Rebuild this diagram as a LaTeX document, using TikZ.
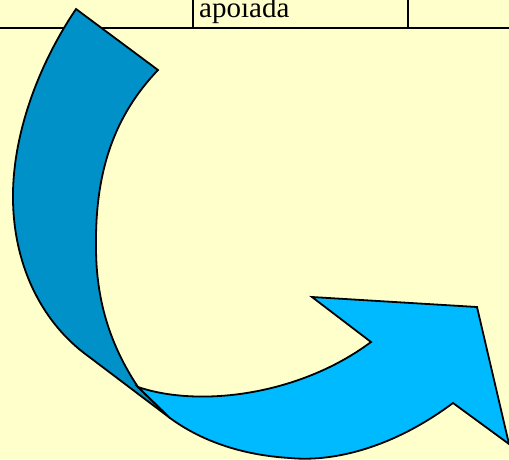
\documentclass[tikz,border=0pt]{standalone}
\usepackage{fontspec}
\setmainfont{Liberation Serif}
\definecolor{bgyellow}{RGB}{255,255,204}
\definecolor{darkblue}{RGB}{0,145,200}
\definecolor{lightblue}{RGB}{0,186,255}
\begin{document}
\begin{tikzpicture}[x=1pt,y=-1pt,
  tableline/.style={line width=2.8pt,black},
  band/.style={draw=black,line width=1.8pt,line join=miter}]
\fill[bgyellow] (0,0) rectangle (509,459);
\useasboundingbox (0,0) rectangle (509,459);
% table fragment
\coordinate (hl) at (0,28);
\coordinate (hr) at (509,28);
\coordinate (v1t) at (193,0);
\coordinate (v1b) at (193,28);
\coordinate (v2t) at (408,0);
\coordinate (v2b) at (408,28);
\draw[tableline] (hl) -- (hr);
\draw[tableline] (v1t) -- (v1b);
\draw[tableline] (v2t) -- (v2b);
\node[anchor=base west,inner sep=0pt,font=\fontsize{29}{31}\selectfont] (txt) at (199,17) {apo\i ada};
% dark back band
\draw[band,fill=darkblue] (76,9) -- (158,70)
  .. controls (115,115) and (95,170) .. (96,247)
  .. controls (96,300) and (110,345) .. (138,387)
  -- (170,418) -- (88,356)
  .. controls (45,325) and (14,270) .. (13,200)
  .. controls (12,140) and (35,70) .. (76,9) -- cycle;
% light front band with head
\draw[band,fill=lightblue] (138,387)
  .. controls (200,408) and (300,395) .. (371,342)
  -- (312,297) -- (477,307) -- (509,444) -- (453,403)
  .. controls (390,450) and (330,462) .. (290,458)
  .. controls (240,455) and (200,440) .. (170,418)
  -- cycle;
\end{tikzpicture}
\end{document}
